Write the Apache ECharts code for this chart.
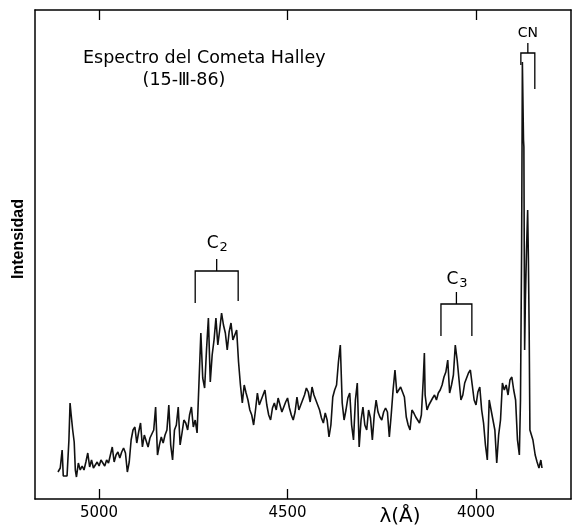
<!DOCTYPE html>
<html>
<head>
<meta charset="utf-8">
<script src="https://cdn.jsdelivr.net/npm/echarts@6/dist/echarts.min.js"></script>
<style>html,body{margin:0;padding:0;background:#fff}#main{width:576px;height:527px}</style>
</head>
<body>
<div id="main"></div>
<script>
// Wavelength (Å) and relative intensity
const wavelengths = [5109,5105,5103,5098,5095,5090,5085,5080,5077,5074,5070,5066,5063,5060,5055,5050,5045,5040,5035,5030,5025,5020,5015,5010,5005,5000,
4995,4990,4985,4980,4975,4970,4965,4960,4955,4950,4945,4940,4935,4930,4925,4920,4915,4910,4905,4900,4895,4890,4885,4880,4875,4870,4865,4860,4855,4850,
4845,4840,4835,4830,4825,4820,4815,4810,4805,4800,4795,4790,4785,4780,4775,4770,4765,4760,4755,4750,4745,4740,4735,4730,4725,4720,4715,4710,4705,4700,
4695,4690,4685,4680,4675,4670,4665,4660,4655,4650,4645,4640,4635,4630,4625,4620,4615,4610,4605,4600,4595,4590,4585,4580,4575,4570,4565,4560,4555,4550,
4545,4540,4535,4530,4525,4520,4515,4510,4505,4500,4495,4490,4485,4480,4475,4470,4465,4460,4455,4450,4445,4440,4435,4430,4425,4420,4415,4410,4405,4400,
4395,4390,4385,4380,4375,4370,4365,4360,4355,4350,4345,4340,4335,4330,4325,4320,4315,4310,4305,4300,4295,4290,4285,4280,4275,4270,4265,4260,4255,4250,
4245,4240,4235,4230,4225,4220,4215,4210,4205,4200,4195,4190,4185,4180,4175,4170,4165,4160,4155,4150,4145,4140,4137,4135,4130,4125,4120,4115,4110,4105,4100,
4095,4090,4085,4080,4075,4070,4065,4060,4055,4050,4045,4040,4035,4030,4025,4020,4015,4010,4005,4000,
3995,3990,3985,3980,3975,3970,3965,3960,3955,3950,3945,3940,3935,3930,3925,3920,3915,3910,3905,3900,3895,3890,3885,3882,3879,3877,3874,3873,3872,3871,
3869,3866,3863,3861,3859,3857,3854,3849,3843,3838,3833,3830,3828,3825];
const intensity = [27,29,31,49,23,21,23,59,96,84,69,57,29,22,36,29,33,29,37,46,32,39,31,29,37,33,
39,41,33,39,36,44,52,37,44,47,41,47,51,46,27,37,59,69,72,56,67,76,52,64,66,52,61,59,69,92,
44,54,62,56,64,69,94,54,39,69,74,92,54,66,79,76,69,84,92,72,79,66,116,166,121,111,149,181,117,144,
159,181,154,169,186,174,166,149,167,176,159,159,169,137,114,96,114,106,99,89,84,74,89,106,94,92,104,109,94,84,
79,91,96,89,101,99,87,89,97,101,91,84,79,87,102,89,94,99,104,111,107,97,112,104,99,94,89,81,76,86,
79,62,74,102,109,114,137,154,96,79,89,101,106,74,59,99,116,52,79,92,74,69,89,81,59,84,99,87,82,79,
87,91,87,62,84,109,129,106,109,112,107,102,82,74,69,89,86,82,79,76,84,119,146,104,89,94,96,101,104,99,106,
109,114,122,127,139,106,114,124,154,139,119,99,104,116,121,126,129,114,99,94,
107,112,89,76,54,39,99,89,79,69,36,64,79,116,109,114,104,119,122,109,99,59,44,99,249,437,359,352,249,149,
199,249,289,239,169,69,67,59,44,37,31,29,39,31];
const xTicks = [5000, 4500, 4000];
// Band annotations (brackets) in data units
const bandNames = ['C2', 'C3', 'CN'];
const bandLeft = [4745, 4093, 3881];
const bandRight = [4631, 4011, 3844];
const bandTop = [228, 195, 446];
const bandLegLeft = [196, 163, 434];
const bandLegRight = [198, 163, 410];
const bandStem = [240, 207, 456];
const bandLabelY = [255, 219.5, 466];

const chart = echarts.init(document.getElementById('main'), null, {renderer: 'canvas'});
const data = wavelengths.map((w, i) => [w, intensity[i]]);
const axisLineStyle = {color: '#000', width: 1.5};
const xBase = {
  type: 'value', min: 3748, max: 5170, inverse: true,
  axisLine: {show: true, onZero: false, lineStyle: axisLineStyle},
  axisTick: {show: true, inside: true, length: 10, customValues: xTicks, lineStyle: {color: '#000', width: 1.3}},
  splitLine: {show: false}
};
chart.setOption({
  animation: false,
  backgroundColor: '#fff',
  grid: {left: 35, right: 5, top: 10, bottom: 28},
  xAxis: [
    Object.assign({}, xBase, {position: 'bottom',
      axisLabel: {customValues: xTicks, formatter: (v) => String(v), color: '#000', fontFamily: 'DejaVu Sans', fontSize: 15, margin: 7}}),
    Object.assign({}, xBase, {position: 'top', axisLabel: {show: false}})
  ],
  yAxis: [
    {type: 'value', min: 0, max: 489, position: 'left', axisLine: {show: true, onZero: false, lineStyle: axisLineStyle},
      axisTick: {show: false}, axisLabel: {show: false}, splitLine: {show: false}},
    {type: 'value', min: 0, max: 489, position: 'right', axisLine: {show: true, onZero: false, lineStyle: axisLineStyle},
      axisTick: {show: false}, axisLabel: {show: false}, splitLine: {show: false}}
  ],
  series: [{
    type: 'line', data: data, showSymbol: false, xAxisIndex: 0, yAxisIndex: 0,
    lineStyle: {color: '#111', width: 1.6}
  }]
});

const px = (w, v) => chart.convertToPixel({xAxisIndex: 0, yAxisIndex: 0}, [w, v]);
const graphics = [];
const font = 'DejaVu Sans';
bandNames.forEach((name, i) => {
  const a = px(bandLeft[i], bandLegLeft[i]);
  const b = px(bandLeft[i], bandTop[i]);
  const c = px(bandRight[i], bandTop[i]);
  const d = px(bandRight[i], bandLegRight[i]);
  const midW = (bandLeft[i] + bandRight[i]) / 2;
  const m1 = px(midW, bandTop[i]);
  const m2 = px(midW, bandStem[i]);
  graphics.push({type: 'polyline', shape: {points: [a, b, c, d]}, style: {stroke: '#000', lineWidth: 1.3, fill: null}});
  graphics.push({type: 'line', shape: {x1: m1[0], y1: m1[1], x2: m2[0], y2: m2[1]}, style: {stroke: '#000', lineWidth: 1.3}});
  const lp = px(midW, bandLabelY[i]);
  if (name === 'CN') {
    graphics.push({type: 'text', x: lp[0], y: lp[1], style: {text: 'CN', fontFamily: font, fontSize: 14, fill: '#000', align: 'center', verticalAlign: 'middle'}});
  } else {
    graphics.push({type: 'text', x: lp[0] - 4, y: lp[1], style: {text: 'C', fontFamily: font, fontSize: 17, fill: '#000', align: 'center', verticalAlign: 'middle'}});
    graphics.push({type: 'text', x: lp[0] + 7, y: lp[1] + 4, style: {text: name.slice(1), fontFamily: font, fontSize: 13, fill: '#000', align: 'center', verticalAlign: 'middle'}});
  }
});
graphics.push({type: 'text', x: 83, y: 58, style: {text: 'Espectro del Cometa Halley', fontFamily: font, fontSize: 17.5, fill: '#000', align: 'left', verticalAlign: 'middle'}});
graphics.push({type: 'text', x: 184, y: 80, style: {text: '(15-Ⅲ-86)', fontFamily: font, fontSize: 17.5, fill: '#000', align: 'center', verticalAlign: 'middle'}});
graphics.push({type: 'text', x: 19, y: 239, rotation: Math.PI / 2, style: {text: 'Intensidad', fontFamily: 'Liberation Sans', fontWeight: 'bold', fontSize: 16, fill: '#000', align: 'center', verticalAlign: 'middle'}});
graphics.push({type: 'text', x: 400, y: 517, style: {text: 'λ(Å)', fontFamily: font, fontSize: 20, fill: '#000', align: 'center', verticalAlign: 'middle'}});
chart.setOption({graphic: graphics});
</script>
</body>
</html>
